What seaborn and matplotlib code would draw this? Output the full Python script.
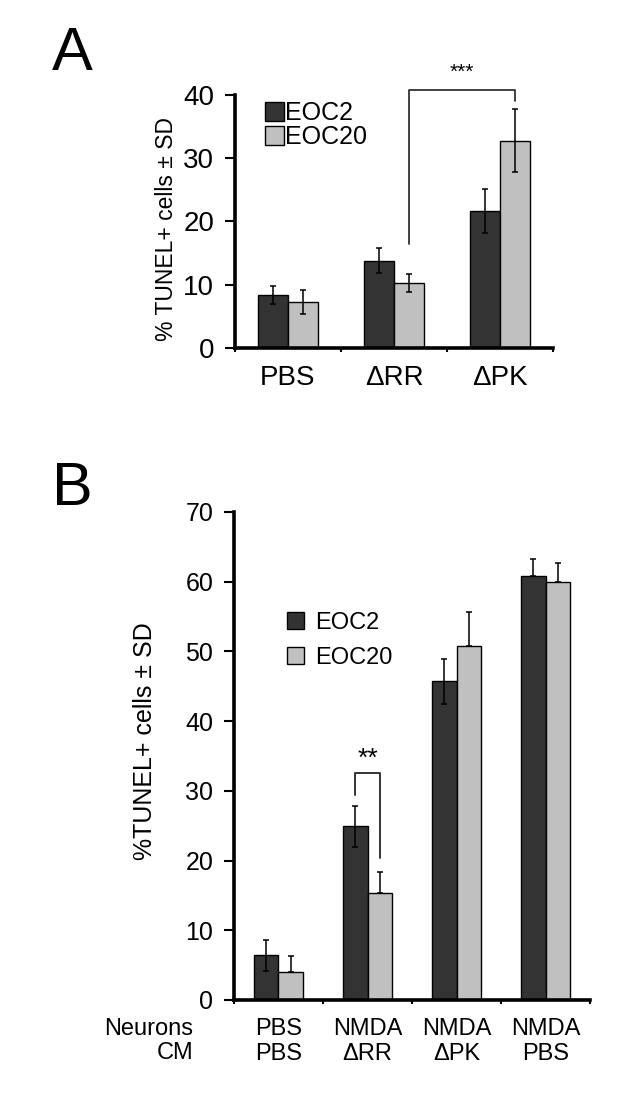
import pandas as pd
import numpy as np
import seaborn as sns
import matplotlib.pyplot as plt
from matplotlib.patches import Patch

# --- data ---
series = ['EOC2', 'EOC20']
colors = ['#333333', '#c0c0c0']

a_groups = ['PBS', 'ΔRR', 'ΔPK']
a_eoc2 = [8.4, 13.8, 21.7]
a_eoc20 = [7.3, 10.3, 32.8]
a_eoc2_sd = [1.4, 2.0, 3.5]
a_eoc20_sd = [1.9, 1.4, 5.0]

b_groups = ['PBS\nPBS', 'NMDA\nΔRR', 'NMDA\nΔPK', 'NMDA\nPBS']
b_eoc2 = [6.4, 24.9, 45.7, 60.8]
b_eoc20 = [4.0, 15.3, 50.8, 60.0]
b_eoc2_sd = [2.2, 2.9, 3.2, 2.5]
b_eoc20_sd = [2.3, 3.0, 4.9, 2.7]
# lower whiskers drawn in panel B (1 = shown)
b_eoc2_low = [1, 1, 1, 0]
b_eoc20_low = [0, 0, 0, 0]

sns.set_style('ticks')
plt.rcParams['font.family'] = ['Liberation Sans', 'DejaVu Sans']
plt.rcParams.update({'text.color': 'black', 'axes.labelcolor': 'black',
                     'xtick.color': 'black', 'ytick.color': 'black',
                     'axes.edgecolor': 'black'})


def long_df(groups, v1, v2):
    return pd.DataFrame({'group': groups * 2,
                         'series': [series[0]] * len(groups) + [series[1]] * len(groups),
                         'value': v1 + v2})


def draw_panel(ax, df, groups, sds, lows, ymax, tick_fs, xlab_fs, capsize):
    sns.barplot(data=df, x='group', y='value', hue='series', order=groups,
                hue_order=series, palette=colors, width=0.56, gap=0,
                edgecolor='black', linewidth=1, errorbar=None, legend=False,
                saturation=1, ax=ax)
    centers = []
    for cont, sd, low in zip(ax.containers, sds, lows):
        xs = [b.get_x() + b.get_width() / 2 for b in cont]
        hs = [b.get_height() for b in cont]
        centers.append(xs)
        lo = [s * l for s, l in zip(sd, low)]
        ax.errorbar(xs, hs, yerr=[lo, sd], fmt='none', ecolor='black',
                    elinewidth=1.1, capsize=capsize, capthick=1.1, zorder=4)
    n = len(groups)
    ax.set_xlim(-0.5, n - 0.5)
    ax.set_ylim(0, ymax)
    ax.set_yticks(np.arange(0, ymax + 1, 10))
    ax.set_xticks(range(n))
    ax.set_xticklabels(groups, fontsize=xlab_fs)
    ax.set_xticks(np.arange(-0.5, n, 1), minor=True)
    ax.tick_params(axis='x', which='major', length=0, pad=12)
    ax.tick_params(axis='x', which='minor', length=3, width=1.5, direction='out')
    ax.tick_params(axis='y', length=7, width=1.5, labelsize=tick_fs, pad=8)
    sns.despine(ax=ax)
    for s in ['left', 'bottom']:
        ax.spines[s].set_linewidth(2.6)
    ax.set_xlabel('')
    return centers


fig = plt.figure(figsize=(6.21, 10.98), dpi=100)

# --- panel A ---
axA = fig.add_axes([0.3784, 0.6831, 0.512, 0.2304])
cA = draw_panel(axA, long_df(a_groups, a_eoc2, a_eoc20), a_groups,
                [a_eoc2_sd, a_eoc20_sd], [[1, 1, 1], [1, 1, 1]], 40, 20, 20, 2.2)
axA.set_ylabel('% TUNEL+ cells ± SD', fontsize=16.5)
axA.yaxis.set_label_coords(-0.18, 0.47)
x1, x2 = cA[1][1], cA[1][2]
axA.plot([x1, x1, x2, x2], [16.5, 40.8, 40.8, 39.0], color='#333333', lw=1.3,
         clip_on=False)
axA.text((x1 + x2) / 2, 43.6, '***', ha='center', va='center', fontsize=15)
hA = [Patch(facecolor=c, edgecolor='black') for c in colors]
axA.legend(hA, series, loc='upper left', bbox_to_anchor=(0.095, 0.975),
           frameon=False, fontsize=18, handlelength=0.75, handleheight=0.75,
           handletextpad=0.05, labelspacing=0.0, borderpad=0, borderaxespad=0)

# --- panel B ---
axB = fig.add_axes([0.3768, 0.0893, 0.5733, 0.4444])
cB = draw_panel(axB, long_df(b_groups, b_eoc2, b_eoc20), b_groups,
                [b_eoc2_sd, b_eoc20_sd], [b_eoc2_low, b_eoc20_low], 70, 18, 17, 2.2)
axB.set_ylabel('%TUNEL+ cells ± SD', fontsize=18)
axB.yaxis.set_label_coords(-0.215, 0.53)
axB.tick_params(axis='x', which='major', pad=13)
x1, x2 = cB[0][1], cB[1][1]
axB.plot([x1, x1, x2, x2], [29.4, 32.5, 32.5, 20.4], color='#333333', lw=1.4)
axB.text((x1 + x2) / 2, 34.6, '**', ha='center', va='center', fontsize=19)
axB.legend(hA, series, loc='upper left', bbox_to_anchor=(0.148, 0.795),
           frameon=False, fontsize=17, handlelength=0.75, handleheight=0.75,
           handletextpad=0.45, labelspacing=0.55, borderpad=0, borderaxespad=0)
fig.text(193 / 621, 1 - 1041 / 1098, 'Neurons\nCM', ha='right', va='center',
         multialignment='right', fontsize=17, linespacing=1.15)

fig.text(52 / 621, 1 - 70 / 1098, 'A', fontsize=44, va='baseline')
fig.text(52 / 621, 1 - 505 / 1098, 'B', fontsize=44, va='baseline')

plt.savefig('out.png', dpi=100)
